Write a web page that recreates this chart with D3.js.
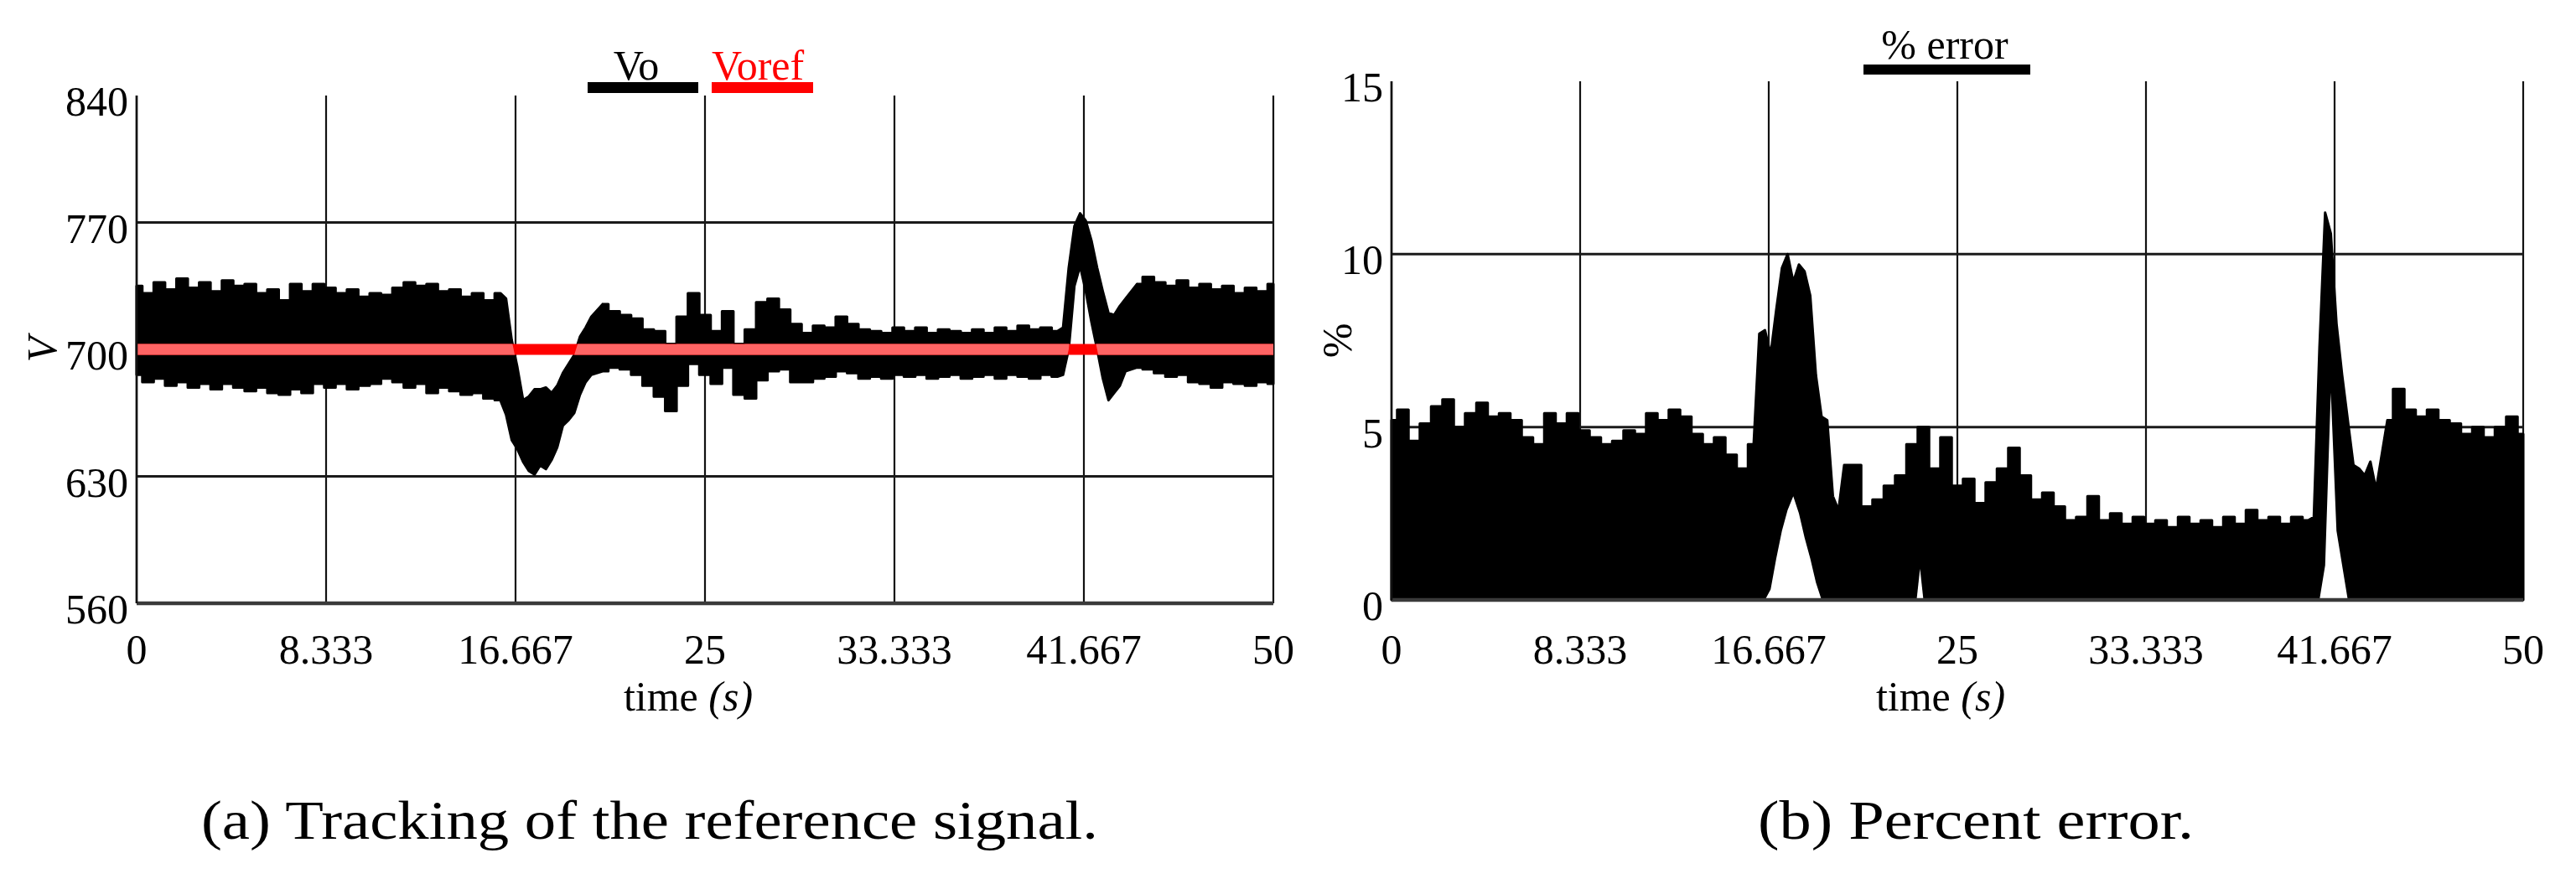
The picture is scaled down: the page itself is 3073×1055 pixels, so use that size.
<!DOCTYPE html>
<html lang="en">
<head>
<meta charset="utf-8">
<title>Output voltage tracking and percent error</title>
<script src="https://d3js.org/d3.v7.min.js"></script>
<style type="text/css">
    body { margin: 0; background: #fff; }
    svg { display: block; }
    text { font-family: "Liberation Serif", "Times New Roman", serif; fill: #000; }
</style>
</head>
<body>
<svg width="3073" height="1055"></svg>
<script type="text/javascript">

// sample times (s), denser around the two transients
const time = [
    0, 0.5, 1, 1.5, 2, 2.5, 3, 3.5, 4, 4.5, 5, 5.5, 6, 6.5, 7, 7.5, 8, 8.5, 9, 9.5,
    10, 10.5, 11, 11.5, 12, 12.5, 13, 13.5, 14, 14.5, 15, 15.5, 16,
    16.25, 16.5, 16.75, 17, 17.25, 17.5, 17.75, 18, 18.25, 18.5, 18.75, 19, 19.25, 19.5, 19.75, 20,
    20.5, 21, 21.5, 22, 22.5, 23, 23.5, 24, 24.5, 25, 25.5, 26, 26.5, 27, 27.5, 28, 28.5, 29, 29.5, 30,
    30.5, 31, 31.5, 32, 32.5, 33, 33.5, 34, 34.5, 35, 35.5, 36, 36.5, 37, 37.5, 38, 38.5, 39, 39.5, 40, 40.5,
    40.75, 41, 41.25, 41.5, 41.75, 42, 42.25, 42.5, 42.75, 43, 43.25, 43.5,
    44, 44.5, 45, 45.5, 46, 46.5, 47, 47.5, 48, 48.5, 49, 49.5, 50
];

// Vo: upper and lower edge of the noisy band (V)
const voHigh = [
    735, 731, 737, 733, 739, 734, 737, 732, 738, 735, 736, 731, 733, 727, 736, 732, 736, 734, 731, 733,
    729, 731, 730, 734, 737, 735, 736, 732, 733, 729, 731, 727, 731,
    728, 705, 690, 672, 674, 678, 678, 679, 676, 680, 687, 692, 697, 707, 712, 718,
    725, 721, 719, 717, 711, 710, 703, 718, 731, 719, 710, 721, 703, 711, 726, 728, 722, 714, 709, 713,
    712, 718, 714, 711, 710, 709, 712, 710, 712, 709, 711, 710, 709, 711, 709, 712, 710, 713, 711, 712, 710,
    712, 745, 768, 775, 771, 760, 745, 732, 720, 719, 724, 728,
    736, 740, 737, 735, 738, 734, 736, 733, 735, 731, 734, 732, 736
];
const voLow = [
    686, 682, 684, 680, 682, 679, 681, 678, 681, 679, 677, 679, 676, 675, 678, 676, 681, 679, 681, 678,
    680, 681, 684, 682, 679, 681, 676, 679, 677, 675, 676, 673, 672,
    664, 650, 645, 638, 633, 631, 636, 634, 639, 646, 658, 661, 665, 675, 682, 686,
    688, 690, 689, 686, 680, 674, 666, 680, 692, 686, 681, 690, 675, 673, 683, 688, 689, 682, 682, 684,
    685, 688, 687, 684, 685, 684, 686, 685, 686, 684, 685, 686, 684, 685, 686, 684, 686, 685, 684, 686, 685,
    686, 700, 735, 746, 732, 715, 700, 684, 672, 676, 680, 688,
    690, 689, 687, 685, 686, 682, 681, 679, 682, 681, 680, 682, 681
];
const voRef = 700;

// % error: upper edge of the filled band
const errHigh = [
    5.2, 5.5, 4.6, 5.1, 5.6, 5.8, 5.0, 5.4, 5.7, 5.3, 5.4, 5.2, 4.7, 4.5, 5.4, 5.1, 5.4, 4.9, 4.7, 4.5,
    4.6, 4.9, 4.8, 5.4, 5.2, 5.5, 5.3, 4.8, 4.5, 4.7, 4.2, 3.8, 4.5,
    7.7, 7.8, 7.1, 8.4, 9.6, 10.0, 9.2, 9.7, 9.5, 8.8, 6.5, 5.3, 5.2, 3.0, 2.6, 3.9,
    3.9, 2.7, 2.9, 3.3, 3.6, 4.5, 5.0, 3.8, 4.7, 3.3, 3.5, 2.8, 3.4, 3.8, 4.4, 3.6, 2.9, 3.1, 2.7, 2.3,
    2.4, 3.0, 2.3, 2.5, 2.2, 2.4, 2.2, 2.3, 2.1, 2.4, 2.2, 2.3, 2.1, 2.4, 2.2, 2.6, 2.3, 2.4, 2.2, 2.4, 2.3,
    2.4, 7.3, 11.2, 10.6, 8.0, 6.5, 5.2, 3.9, 3.8, 3.6, 4.0, 3.2,
    5.2, 6.1, 5.5, 5.3, 5.5, 5.2, 5.1, 4.8, 5.0, 4.7, 5.0, 5.3, 4.8
];
// places where the error never reaches zero (white gaps under the band)
const gapTime = [
    [16.5, 16.75, 17, 17.25, 17.5, 17.75, 18, 18.25, 18.5, 18.75, 19],
    [23.2, 23.35, 23.5],
    [41, 41.25, 41.5, 41.75, 42, 42.25]
];
const gapPct = [
    [0, 0.3, 1.2, 2.0, 2.6, 3.0, 2.5, 1.8, 1.2, 0.5, 0],
    [0, 0.9, 0],
    [0, 1.0, 6.0, 2.0, 1.0, 0]
];

const timeTicks = [0, 8.3333, 16.6667, 25, 33.3333, 41.6667, 50];
const timeTickLabels = ["0", "8.333", "16.667", "25", "33.333", "41.667", "50"];
const voTicks = [560, 630, 700, 770, 840];
const errTicks = [0, 5, 10, 15];

// the two transients are drawn as smooth ramps, the rest as a ragged step trace
const smoothSpans = [[16, 20.5], [40.5, 44]];
const inSpan = t => smoothSpans.some(([a, b]) => t > a && t < b);
const onSpan = t => smoothSpans.some(([a, b]) => t >= a && t <= b);

const svg = d3.select("svg");
svg.append("rect").attr("width", 3073).attr("height", 1055).attr("fill", "#fff");

const xL = d3.scaleLinear().domain([0, 50]).range([163, 1519]);
const yL = d3.scaleLinear().domain([560, 840]).range([720, 114]);
const xR = d3.scaleLinear().domain([0, 50]).range([1660, 3010]);
const yR = d3.scaleLinear().domain([0, 15]).range([716, 97]);

const tickY = 792;

function drawGrid(g, x, y, yTicks) {
    const [yMin, yMax] = y.domain();
    g.selectAll("line.vgrid")
        .data(timeTicks)
        .join("line")
        .attr("class", "vgrid")
        .attr("x1", d => x(d)).attr("x2", d => x(d))
        .attr("y1", y(yMax)).attr("y2", y(yMin))
        .style("stroke", "#111")
        .style("stroke-width", 2.2);

    g.selectAll("line.hgrid")
        .data(yTicks.filter(d => d !== yMax && d !== yMin))
        .join("line")
        .attr("class", "hgrid")
        .attr("x1", x(0)).attr("x2", x(50))
        .attr("y1", d => y(d)).attr("y2", d => y(d))
        .style("stroke", "#1a1a1a")
        .style("stroke-width", 3);
}

function drawFrame(g, x, y) {
    const [yMin, yMax] = y.domain();
    g.append("line")
        .attr("x1", x(0)).attr("x2", x(50))
        .attr("y1", y(yMin)).attr("y2", y(yMin))
        .style("stroke", "#3a3a3a")
        .style("stroke-width", 4.5);
    g.append("line")
        .attr("x1", x(0)).attr("x2", x(0))
        .attr("y1", y(yMax)).attr("y2", y(yMin))
        .style("stroke", "#111")
        .style("stroke-width", 2.6);
}

function drawLabels(g, x, y, yTicks, yFormat) {
    g.selectAll("text.xtick")
        .data(timeTicks)
        .join("text")
        .attr("class", "xtick")
        .attr("x", d => x(d))
        .attr("y", tickY)
        .attr("text-anchor", "middle")
        .attr("font-size", 50)
        .text((d, i) => timeTickLabels[i]);

    g.selectAll("text.ytick")
        .data(yTicks)
        .join("text")
        .attr("class", "ytick")
        .attr("x", x(0) - 10)
        .attr("y", d => y(d) + 24)
        .attr("text-anchor", "end")
        .attr("font-size", 50)
        .text(yFormat);

    const title = g.append("text")
        .attr("x", (x(0) + x(50)) / 2 - 20)
        .attr("y", 848)
        .attr("text-anchor", "middle")
        .attr("font-size", 50);
    title.append("tspan").text("time ");
    title.append("tspan").attr("font-style", "italic").text("(s)");
}

// builds the band path: step curve outside the transients, linear inside them
function bandPath(area) {
    const idx = d3.range(time.length);
    const rough = area.curve(d3.curveStep).defined(i => !inSpan(time[i]))(idx);
    const smooth = area.curve(d3.curveLinear).defined(i => onSpan(time[i]))(idx);
    return rough + smooth;
}

// ---------- (a) Vo tracking ----------
const gA = svg.append("g");
drawGrid(gA, xL, yL, voTicks);

const voArea = d3.area()
    .x(i => xL(time[i]))
    .y0(i => yL(voLow[i]))
    .y1(i => yL(voHigh[i]));
const voPath = bandPath(voArea);

gA.append("clipPath").attr("id", "voClip")
    .append("path").attr("d", voPath);

gA.append("path")
    .attr("d", voPath)
    .style("fill", "#000")
    .style("stroke", "#000")
    .style("stroke-width", 3)
    .style("stroke-linejoin", "round");

const refLine = d3.line().x(d => xL(d)).y(() => yL(voRef));
gA.append("path")
    .attr("d", refLine(xL.domain()))
    .style("stroke", "#ff0000")
    .style("stroke-width", 13)
    .style("fill", "none");
gA.append("path")
    .attr("d", refLine(xL.domain()))
    .attr("clip-path", "url(#voClip)")
    .style("stroke", "#ff6464")
    .style("stroke-width", 13)
    .style("fill", "none");

drawFrame(gA, xL, yL);
drawLabels(gA, xL, yL, voTicks, d => d);

gA.append("text")
    .attr("transform", `translate(50,${(yL(560) + yL(840)) / 2}) rotate(-90)`)
    .attr("text-anchor", "middle")
    .attr("dominant-baseline", "central")
    .attr("font-size", 50)
    .attr("font-style", "italic")
    .text("V");

// legend
gA.append("line").attr("x1", 701).attr("x2", 833).attr("y1", 104.5).attr("y2", 104.5)
    .style("stroke", "#000").style("stroke-width", 13);
gA.append("text").attr("x", 759).attr("y", 95).attr("text-anchor", "middle")
    .attr("font-size", 50).text("Vo");
gA.append("line").attr("x1", 849).attr("x2", 970).attr("y1", 104.5).attr("y2", 104.5)
    .style("stroke", "#ff0000").style("stroke-width", 13);
gA.append("text").attr("x", 849).attr("y", 95)
    .attr("font-size", 50).style("fill", "#ff0000").text("Voref");

// ---------- (b) percent error ----------
const gB = svg.append("g");
drawGrid(gB, xR, yR, errTicks);

const errArea = d3.area()
    .x(i => xR(time[i]))
    .y0(yR(0))
    .y1(i => yR(errHigh[i]));
gB.append("path")
    .attr("d", bandPath(errArea))
    .style("fill", "#000")
    .style("stroke", "#000")
    .style("stroke-width", 3)
    .style("stroke-linejoin", "round");

const gapArea = d3.area()
    .x(d => xR(d[0]))
    .y0(yR(0))
    .y1(d => yR(d[1]));
gB.selectAll("path.gap")
    .data(gapTime.map((ts, k) => ts.map((t, j) => [t, gapPct[k][j]])))
    .join("path")
    .attr("class", "gap")
    .attr("d", gapArea)
    .style("fill", "#fff");

drawFrame(gB, xR, yR);
drawLabels(gB, xR, yR, errTicks, d => d);

gB.append("text")
    .attr("transform", `translate(1595,${(yR(0) + yR(15)) / 2}) rotate(-90)`)
    .attr("text-anchor", "middle")
    .attr("dominant-baseline", "central")
    .attr("font-size", 50)
    .text("%");

gB.append("line").attr("x1", 2223).attr("x2", 2422).attr("y1", 83).attr("y2", 83)
    .style("stroke", "#000").style("stroke-width", 12);
gB.append("text").attr("x", 2320).attr("y", 70).attr("text-anchor", "middle")
    .attr("font-size", 50).text("% error");

// ---------- captions ----------
svg.append("text")
    .attr("x", 240).attr("y", 1001)
    .attr("font-size", 66)
    .attr("textLength", 1070)
    .attr("lengthAdjust", "spacingAndGlyphs")
    .text("(a) Tracking of the reference signal.");
svg.append("text")
    .attr("x", 2097).attr("y", 1001)
    .attr("font-size", 66)
    .attr("textLength", 520)
    .attr("lengthAdjust", "spacingAndGlyphs")
    .text("(b) Percent error.");

</script>
</body>
</html>
